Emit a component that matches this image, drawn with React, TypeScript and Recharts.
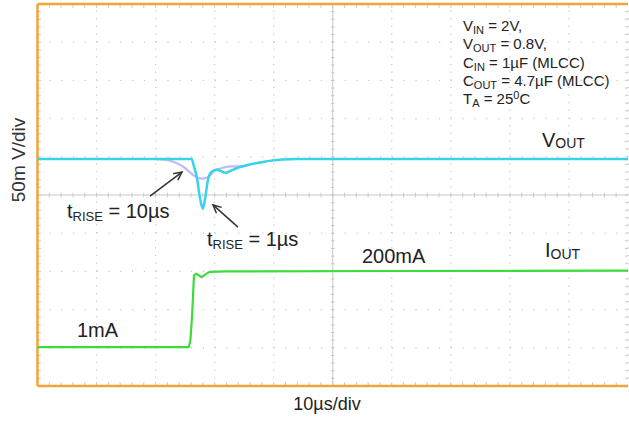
import { LineChart, Line, XAxis, YAxis, ReferenceLine } from "recharts";

// time in µs (10 µs/div), level in divisions from the bottom of the screen
const voutTime = [0, 26.1, 26.5, 27.0, 27.5, 28.0, 28.4, 28.9, 29.5, 30.4, 31.0, 31.8, 32.8, 33.7, 36.0, 37.7, 39.5, 41.5, 44, 100];
const voutLevel = [5.94, 5.94, 5.75, 5.45, 4.93, 4.64, 4.93, 5.42, 5.61, 5.67, 5.63, 5.58, 5.64, 5.7, 5.8, 5.85, 5.9, 5.93, 5.94, 5.94];

const vout10Time = [20, 21.3, 23.0, 24.7, 26.4, 27.2, 28.0, 28.65, 29.8, 31.5, 32.9, 34.5, 36];
const vout10Level = [5.94, 5.93, 5.87, 5.74, 5.52, 5.44, 5.43, 5.45, 5.61, 5.72, 5.75, 5.75, 5.8];

const ioutTime = [0, 25.6, 25.9, 26.2, 26.5, 26.85, 27.3, 27.8, 28.5, 29.2, 32, 60, 100];
const ioutLevel = [1.02, 1.02, 1.2, 1.9, 2.9, 2.94, 2.9, 2.85, 2.93, 2.99, 3.0, 3.01, 3.02];

const majorX = [10, 20, 30, 40, 60, 70, 80, 90, 100];
const majorY = [1, 2, 3, 4, 6, 7, 8, 9];
const minorX = Array.from({ length: 49 }, (_, i) => (i + 1) * 2);
const minorY = Array.from({ length: 49 }, (_, i) => (i + 1) * 0.2);

const toRows = (ts: number[], vs: number[]) => ts.map((t, i) => ({ t, v: vs[i] }));
const voutData = toRows(voutTime, voutLevel);
const vout10Data = toRows(vout10Time, vout10Level);
const ioutData = toRows(ioutTime, ioutLevel);

const FONT = "'Liberation Sans', Arial, sans-serif";
const ORANGE = "#f2a33a";
const GRID = "#c8c8c8";

const Arrow = (props: any) => {
  const { x1, y1, x2, y2 } = props;
  const a = Math.atan2(y2 - y1, x2 - x1);
  const len = 9;
  const spread = 0.45;
  const p1 = [x2 - len * Math.cos(a - spread), y2 - len * Math.sin(a - spread)];
  const p2 = [x2 - len * Math.cos(a + spread), y2 - len * Math.sin(a + spread)];
  return (
    <g stroke="#333" strokeWidth={1.5} fill="none">
      <line x1={x1} y1={y1} x2={x2} y2={y2} />
      <polyline points={`${p1[0]},${p1[1]} ${x2},${y2} ${p2[0]},${p2[1]}`} />
    </g>
  );
};

export default function App() {
  return (
    <div style={{ position: "absolute", left: 0, top: 0, width: 629, height: 423, background: "#fff", overflow: "hidden" }}>
      <LineChart width={629} height={423} margin={{ top: 4, right: 1, bottom: 37, left: 37.5 }}>
        <XAxis type="number" dataKey="t" domain={[0, 100]} hide />
        <YAxis type="number" dataKey="v" domain={[0, 10]} hide />

        {majorX.map((x) => (
          <ReferenceLine key={`gx${x}`} x={x} stroke={GRID} strokeWidth={1.2} strokeDasharray="1.2 6.44" />
        ))}
        {majorY.map((y) => (
          <ReferenceLine key={`gy${y}`} y={y} stroke={GRID} strokeWidth={1.2} strokeDasharray="1.2 10.61" />
        ))}
        <ReferenceLine x={50} stroke={GRID} strokeWidth={1} />
        <ReferenceLine y={5} stroke={GRID} strokeWidth={1} />

        {minorX.map((x) => (
          <ReferenceLine key={`cx${x}`} segment={[{ x, y: 4.94 }, { x, y: 5.06 }]} stroke={GRID} />
        ))}
        {minorY.map((y) => (
          <ReferenceLine key={`cy${y}`} segment={[{ x: 49.7, y }, { x: 50.3, y }]} stroke={GRID} />
        ))}
        {minorX.map((x) => (
          <ReferenceLine key={`tx${x}`} segment={[{ x, y: 10 }, { x, y: 9.9 }]} stroke={GRID} />
        ))}
        {minorX.map((x) => (
          <ReferenceLine key={`bx${x}`} segment={[{ x, y: 0 }, { x, y: 0.1 }]} stroke={GRID} />
        ))}
        {minorY.map((y) => (
          <ReferenceLine key={`ly${y}`} segment={[{ x: 0, y }, { x: 0.6, y }]} stroke={GRID} />
        ))}
        {minorY.map((y) => (
          <ReferenceLine key={`ry${y}`} segment={[{ x: 99.5, y }, { x: 100, y }]} stroke={GRID} />
        ))}

        <ReferenceLine y={10} stroke={ORANGE} strokeWidth={2.5} />
        <ReferenceLine y={0} stroke={ORANGE} strokeWidth={2.5} />
        <ReferenceLine x={0} stroke={ORANGE} strokeWidth={2.5} />

        <Line data={ioutData} dataKey="v" type="linear" stroke="#3ddc3d" strokeWidth={2.2} dot={false} isAnimationActive={false} />
        <Line data={vout10Data} dataKey="v" type="monotone" stroke="#c2baf5" strokeWidth={2.2} dot={false} isAnimationActive={false} />
        <Line data={voutData} dataKey="v" type="monotone" stroke="#36d3ea" strokeWidth={2.5} dot={false} isAnimationActive={false} />

        <ReferenceLine segment={[{ x: 19.05, y: 4.97 }, { x: 24.47, y: 5.6 }]} shape={Arrow} />
        <ReferenceLine segment={[{ x: 33.95, y: 4.16 }, { x: 29.72, y: 4.74 }]} shape={Arrow} />
      </LineChart>

      <svg width={629} height={423} style={{ position: "absolute", left: 0, top: 0, pointerEvents: "none" }} fontFamily={FONT} fill="#222">
        <g fontSize={15}>
          <text x={463} y={31}>V<tspan fontSize={11} dy={3}>IN</tspan><tspan dy={-3}> = 2V,</tspan></text>
          <text x={463} y={49}>V<tspan fontSize={11} dy={3}>OUT</tspan><tspan dy={-3}> = 0.8V,</tspan></text>
          <text x={463} y={67.5}>C<tspan fontSize={11} dy={3}>IN</tspan><tspan dy={-3}> = 1µF (MLCC)</tspan></text>
          <text x={463} y={86}>C<tspan fontSize={11} dy={3}>OUT</tspan><tspan dy={-3}> = 4.7µF (MLCC)</tspan></text>
          <text x={463} y={104}>T<tspan fontSize={11} dy={3}>A</tspan><tspan dy={-3}> = 25</tspan><tspan fontSize={11} dy={-5}>0</tspan><tspan dy={5}>C</tspan></text>
        </g>
        <text x={542} y={147} fontSize={20}>V<tspan fontSize={14} dy={1}>OUT</tspan></text>
        <text x={545} y={257} fontSize={20}>I<tspan fontSize={14} dy={2}>OUT</tspan></text>
        <text x={362} y={263} fontSize={20}>200mA</text>
        <text x={77} y={337} fontSize={20}>1mA</text>
        <text x={67} y={218} fontSize={20}>t<tspan fontSize={13} dy={3}>RISE</tspan><tspan dy={-3}> = 10µs</tspan></text>
        <text x={207} y={246} fontSize={20}>t<tspan fontSize={13} dy={3}>RISE</tspan><tspan dy={-3}> = 1µs</tspan></text>
        <text x={327} y={410} fontSize={18} textAnchor="middle">10µs/div</text>
        <text x={25} y={160} fontSize={19} textAnchor="middle" fill="#333" transform="rotate(-90 25 160)">50m V/div</text>
      </svg>
    </div>
  );
}
